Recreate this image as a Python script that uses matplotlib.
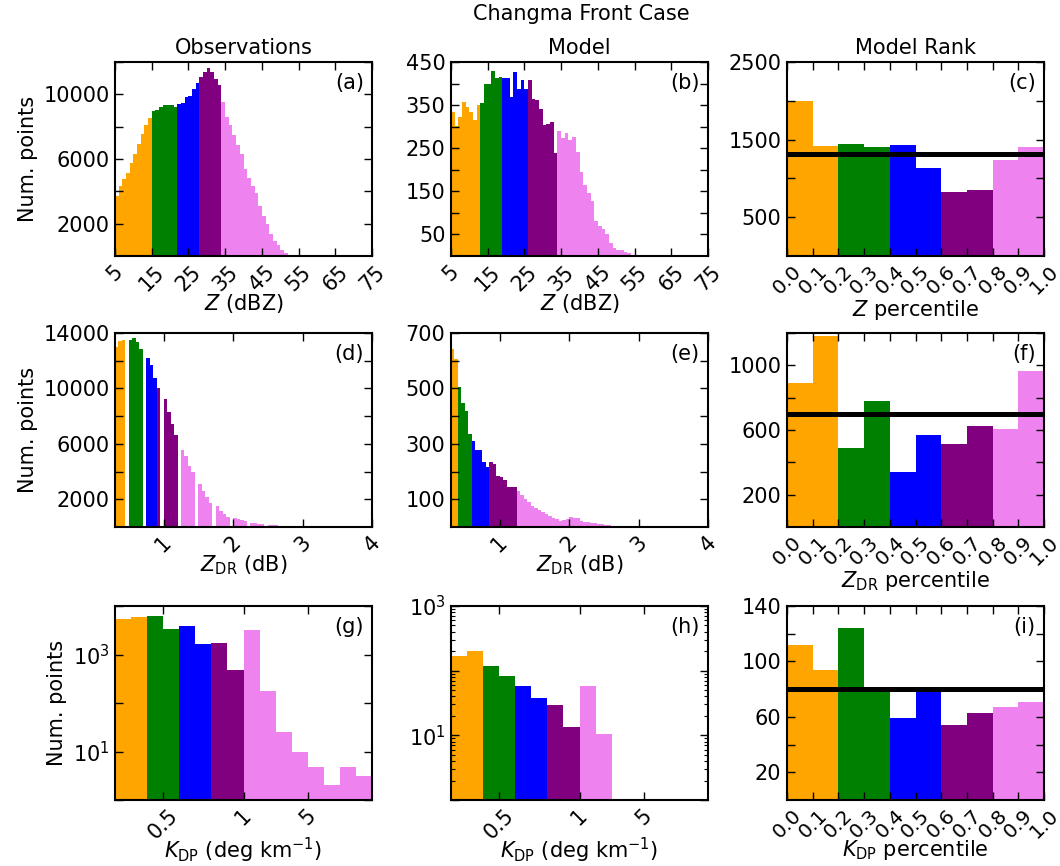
import numpy as np
import matplotlib
matplotlib.use('Agg')
import matplotlib.pyplot as plt
from matplotlib.ticker import FixedLocator, FuncFormatter, LogLocator, NullFormatter

plt.rcParams['font.family'] = ['DejaVu Sans']
plt.rcParams['mathtext.fontset'] = 'dejavusans'
FS = 15

COLORS = ['orange', 'green', 'blue', 'purple', 'violet']

# ---------------- data ----------------
# (a) observed Z histogram, 1 dBZ bins from 5 dBZ
z_obs_start, z_obs_bin = 5, 1
z_obs_counts = [3710, 4330, 4740, 5150, 5770, 6340, 6940, 7520, 8100, 8550,
                8960, 9060, 9230, 9310, 9370, 9330, 9210,
                9410, 9480, 9830, 9890, 10340, 10710,
                11080, 11390, 11640, 11390, 10920, 10550,
                9520, 8610, 8080, 7460, 6860, 6300, 5400, 4800, 4300, 3900,
                3100, 2500, 1950, 1350, 950, 650, 350, 170, 80, 30]
z_obs_groups = [10, 7, 6, 6, 20]

# (b) model Z histogram
z_mod_start, z_mod_bin = 5, 1
z_mod_counts = [335, 302, 323, 358, 346, 333, 315, 350,
                354, 398, 400, 428, 413, 415,
                414, 414, 369, 427, 388, 408, 388,
                408, 365, 362, 342, 304, 306, 310, 238,
                290, 273, 286, 269, 275, 242, 196, 165, 146, 127, 81,
                70, 63, 52, 31, 19, 15, 13, 9, 6, 3]
z_mod_groups = [8, 6, 7, 8, 21]

# (d) observed ZDR histogram, 0.05 dB bins from 0.3 dB
zdr_obs_start, zdr_obs_bin = 0.30, 0.05
zdr_obs_counts = [12990, 13400, 13470, 0,
                  13470, 13640, 13350, 12820, 0,
                  12190, 11660, 10770,
                  10020, 0, 9250, 8280, 7440, 6640, 0,
                  5580, 5140, 4420, 3940, 0, 3090, 2610, 2170, 1760, 0,
                  1520, 1160, 920, 750, 0, 650, 555, 480, 410, 0,
                  310, 265, 240, 190, 0, 150, 130, 110, 90, 0,
                  70, 60, 50, 40, 0, 30, 25, 20, 15]
zdr_obs_groups = [4, 5, 3, 7, 39]

# (e) model ZDR histogram
zdr_mod_start, zdr_mod_bin = 0.30, 0.05
zdr_mod_counts = [641, 605,
                  505, 448, 420, 334,
                  310, 277, 277, 233, 217,
                  235, 227, 184, 181, 169, 145, 143, 143,
                  131, 115, 101, 89, 77, 67, 61, 55, 46, 41, 31, 28, 22, 25,
                  28, 37, 31, 31, 22, 17, 17, 13, 13, 11, 10, 8, 6, 5, 5, 4,
                  4, 3, 3, 3, 2, 2, 3, 2]
zdr_mod_groups = [2, 4, 5, 8, 38]

# (g), (h) KDP histograms on binned (index) axis
kdp_nbins = 16
kdp_tick_index = [3, 8, 12]
kdp_tick_labels = ['0.5', '1', '5']
kdp_obs_counts = [5370, 6000, 6300, 3370, 3930, 1660, 1740, 488,
                  3200, 177, 25.7, 9.7, 4.9, 2.0, 4.9, 3.1]
kdp_obs_groups = [2, 2, 2, 2, 8]
kdp_mod_counts = [166, 199, 119, 82, 57, 37.5, 29, 13.4, 57, 10.6]
kdp_mod_groups = [2, 2, 2, 2, 2]

# rank histograms (c), (f), (i)
rank_edges = [0.0, 0.1, 0.2, 0.3, 0.4, 0.5, 0.6, 0.7, 0.8, 0.9]
rank_colors = ['orange', 'orange', 'green', 'green', 'blue', 'blue',
               'purple', 'purple', 'violet', 'violet']
z_rank = [2000, 1415, 1440, 1400, 1430, 1130, 820, 850, 1235, 1405]
zdr_rank = [893, 1182, 491, 779, 339, 572, 514, 626, 609, 965]
kdp_rank = [112, 94, 124, 80, 59, 79, 54, 63, 67, 71]

# ---------------- layout ----------------
W, H = 1060, 866
fig = plt.figure(figsize=(W / 100, H / 100), dpi=100)
col_left = [115, 451, 787]
row_top = [62, 333, 606]
aw, ah = 257, 194
axs = [[fig.add_axes([l / W, 1 - (t + ah) / H, aw / W, ah / H]) for l in col_left]
       for t in row_top]


def style(ax):
    ax.tick_params(which='major', direction='in', top=True, right=True,
                   length=5.8, width=1.0, labelsize=FS, pad=4)
    ax.tick_params(which='minor', direction='in', top=True, right=True,
                   length=3, width=0.8)
    for s in ax.spines.values():
        s.set_linewidth(1.5)


def draw_hist(ax, start, binw, counts, groups, baseline=0):
    counts = np.asarray(counts, dtype=float)
    edges = start + binw * np.arange(len(counts) + 1)
    i = 0
    for g, c in zip(groups, COLORS):
        ax.stairs(counts[i:i + g], edges[i:i + g + 1], fill=True, color=c,
                  baseline=baseline, linewidth=0)
        i += g


def set_yticks(ax, step, top, shown):
    ax.set_ylim(0, top)
    ax.yaxis.set_major_locator(FixedLocator(np.arange(step, top + step / 2, step)))
    ax.yaxis.set_major_formatter(FuncFormatter(
        lambda v, p: f'{int(round(v))}' if int(round(v)) in shown else ''))


def log_yticks(ax, top, shown):
    ax.set_yscale('log')
    ax.set_ylim(1, top)
    ax.yaxis.set_major_locator(FixedLocator([1, 10, 100, 1000, 10000]))
    ax.yaxis.set_major_formatter(FuncFormatter(
        lambda v, p: ('$10^{%d}$' % int(round(np.log10(v)))) if int(round(np.log10(v))) in shown else ''))
    ax.yaxis.set_minor_locator(LogLocator(base=10, subs=np.arange(2, 10)))
    ax.yaxis.set_minor_formatter(NullFormatter())


def tag_text(ax, tag):
    ax.text(0.968, 0.945, tag, transform=ax.transAxes, ha='right', va='top', fontsize=FS)


def rank_panel(ax, vals, top, step, shown, xlabel, tag, labelpad=0):
    ax.bar(rank_edges, vals, width=0.1, align='edge', color=rank_colors, linewidth=0)
    ax.axhline(np.mean(vals), color='black', linewidth=3.6)
    ax.set_xlim(0, 1)
    ticks = np.round(np.arange(0, 1.01, 0.1), 1)
    ax.set_xticks(ticks)
    ax.set_xticklabels([f'{t:.1f}' for t in ticks])
    ax.tick_params(axis='x', labelrotation=45, labelsize=14.5)
    set_yticks(ax, step, top, shown)
    ax.set_xlabel(xlabel, fontsize=FS, labelpad=labelpad)
    tag_text(ax, tag)


for row in axs:
    for ax in row:
        style(ax)

# Row 1: Z
ax = axs[0][0]
draw_hist(ax, z_obs_start, z_obs_bin, z_obs_counts, z_obs_groups)
ax.set_xlim(5, 75)
ax.set_xticks(np.arange(5, 76, 10))
ax.tick_params(axis='x', labelrotation=45)
set_yticks(ax, 2000, 12000, [2000, 6000, 10000])
ax.set_xlabel('$Z$ (dBZ)', fontsize=FS, labelpad=-2)
ax.set_ylabel('Num. points', fontsize=FS)
tag_text(ax, '(a)')

ax = axs[0][1]
draw_hist(ax, z_mod_start, z_mod_bin, z_mod_counts, z_mod_groups)
ax.set_xlim(5, 75)
ax.set_xticks(np.arange(5, 76, 10))
ax.tick_params(axis='x', labelrotation=45)
set_yticks(ax, 50, 450, [50, 150, 250, 350, 450])
ax.set_xlabel('$Z$ (dBZ)', fontsize=FS, labelpad=-2)
tag_text(ax, '(b)')

rank_panel(axs[0][2], z_rank, 2500, 500, [500, 1500, 2500], '$Z$ percentile', '(c)')

# Row 2: ZDR
ax = axs[1][0]
draw_hist(ax, zdr_obs_start, zdr_obs_bin, zdr_obs_counts, zdr_obs_groups)
ax.set_xlim(0.3, 4)
ax.set_xticks([1, 2, 3, 4])
ax.tick_params(axis='x', labelrotation=45)
set_yticks(ax, 2000, 14000, [2000, 6000, 10000, 14000])
ax.set_xlabel('$Z_{\\mathrm{DR}}$ (dB)', fontsize=FS, labelpad=-2)
ax.set_ylabel('Num. points', fontsize=FS)
tag_text(ax, '(d)')

ax = axs[1][1]
draw_hist(ax, zdr_mod_start, zdr_mod_bin, zdr_mod_counts, zdr_mod_groups)
ax.set_xlim(0.3, 4)
ax.set_xticks([1, 2, 3, 4])
ax.tick_params(axis='x', labelrotation=45)
set_yticks(ax, 100, 700, [100, 300, 500, 700])
ax.set_xlabel('$Z_{\\mathrm{DR}}$ (dB)', fontsize=FS, labelpad=-2)
tag_text(ax, '(e)')

rank_panel(axs[1][2], zdr_rank, 1200, 200, [200, 600, 1000],
           '$Z_{\\mathrm{DR}}$ percentile', '(f)')

# Row 3: KDP
ax = axs[2][0]
draw_hist(ax, 0, 1, kdp_obs_counts, kdp_obs_groups, baseline=0.5)
ax.set_xlim(0, kdp_nbins)
ax.set_xticks(kdp_tick_index)
ax.set_xticklabels(kdp_tick_labels)
ax.tick_params(axis='x', labelrotation=45)
log_yticks(ax, 1e4, [1, 3])
ax.set_xlabel('$K_{\\mathrm{DP}}$ (deg km$^{-1}$)', fontsize=FS, labelpad=-5)
ax.set_ylabel('Num. points', fontsize=FS)
tag_text(ax, '(g)')

ax = axs[2][1]
draw_hist(ax, 0, 1, kdp_mod_counts, kdp_mod_groups, baseline=0.5)
ax.set_xlim(0, kdp_nbins)
ax.set_xticks(kdp_tick_index)
ax.set_xticklabels(kdp_tick_labels)
ax.tick_params(axis='x', labelrotation=45)
log_yticks(ax, 1e3, [1, 3])
ax.set_xlabel('$K_{\\mathrm{DP}}$ (deg km$^{-1}$)', fontsize=FS, labelpad=-5)
tag_text(ax, '(h)')

rank_panel(axs[2][2], kdp_rank, 140, 20, [20, 60, 100, 140],
           '$K_{\\mathrm{DP}}$ percentile', '(i)', labelpad=-3)

# Titles
axs[0][0].set_title('Observations', fontsize=FS, pad=6)
axs[0][1].set_title('Model', fontsize=FS, pad=6)
axs[0][2].set_title('Model Rank', fontsize=FS, pad=6)
fig.text(581 / W, 1 - 14 / H, 'Changma Front Case', ha='center', va='center', fontsize=FS)

fig.savefig('out.png', dpi=100)
